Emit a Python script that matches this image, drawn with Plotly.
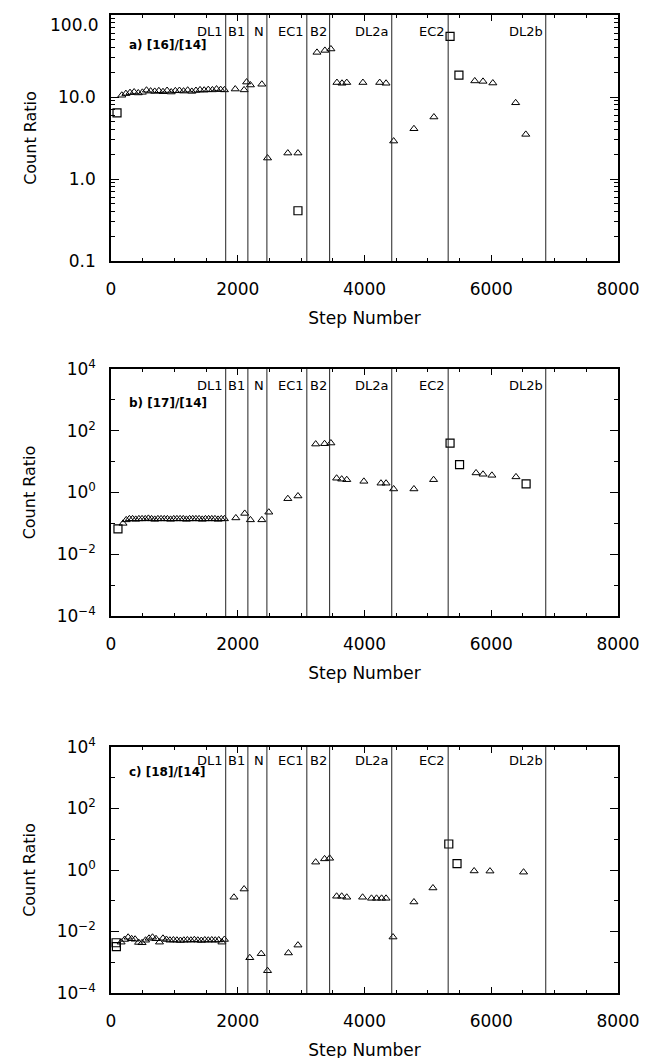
import plotly.graph_objects as go

# ---------------- data ----------------
zone_lines = [1810, 2160, 2460, 3090, 3450, 4430, 5320, 6860]
zone_labels = ["DL1", "B1", "N", "EC1", "B2", "DL2a", "EC2", "DL2b"]

# Panel a) [16]/[14]
a_tri_x = [170, 235, 300, 365, 430, 495, 560, 625, 690, 755, 820, 885, 950, 1015,
           1080, 1145, 1210, 1275, 1340, 1405, 1470, 1535, 1600, 1665, 1730, 1790,
           1960, 2100, 2140, 2200, 2380, 2470, 2790, 2950, 3250, 3375, 3470,
           3565, 3645, 3720, 3975, 4240, 4340, 4460, 4780, 5095,
           5740, 5870, 6025, 6385, 6545]
a_tri_y = [10.5, 11.0, 11.3, 11.5, 11.2, 11.4, 12.1, 11.8, 11.7, 11.9, 11.6, 12.0, 11.5, 11.9,
           12.0, 11.8, 12.1, 11.7, 12.0, 12.2, 12.1, 12.3, 12.2, 12.5, 12.3, 12.2,
           12.5, 12.2, 15.2, 14.0, 14.3, 1.8, 2.07, 2.07, 35, 37, 38.5,
           15.0, 14.7, 15.0, 15.0, 15.0, 14.7, 2.9, 4.1, 5.7,
           15.7, 15.5, 14.8, 8.5, 3.5]
a_sq_x = [95, 2950, 5350, 5490]
a_sq_y = [6.4, 0.41, 55, 18.5]

# Panel b) [17]/[14]
b_tri_x = [190, 240, 290, 340, 390, 440, 490, 540, 590, 640, 690, 740, 790, 840, 890,
           940, 990, 1040, 1090, 1140, 1190, 1240, 1290, 1340, 1390, 1440, 1490, 1540,
           1590, 1640, 1690, 1740, 1790,
           1970, 2110, 2200, 2380, 2490, 2790, 2950, 3230, 3370, 3470,
           3560, 3640, 3720, 3990, 4260, 4340, 4460, 4780, 5090,
           5760, 5870, 6010, 6390]
b_tri_y = [0.10, 0.13, 0.14, 0.14, 0.135, 0.14, 0.14, 0.14, 0.145, 0.14, 0.135, 0.14, 0.14,
           0.14, 0.14, 0.135, 0.14, 0.14, 0.14, 0.14, 0.135, 0.14, 0.14, 0.14, 0.14, 0.135,
           0.14, 0.14, 0.14, 0.14, 0.135, 0.14, 0.14,
           0.15, 0.21, 0.13, 0.13, 0.23, 0.63, 0.77, 37, 38, 40,
           2.9, 2.7, 2.6, 2.3, 2.0, 2.0, 1.3, 1.3, 2.6,
           4.3, 3.9, 3.6, 3.2]
b_sq_x = [110, 5350, 5500, 6550]
b_sq_y = [0.066, 40, 8, 1.9]

# Panel c) [18]/[14]
c_tri_x = [160, 215, 270, 325, 380, 435, 490, 545, 600, 655, 710, 765, 820, 875, 930,
           985, 1040, 1095, 1150, 1205, 1260, 1315, 1370, 1425, 1480, 1535, 1590, 1645,
           1700, 1750, 1790,
           1940, 2100, 2190, 2370, 2470, 2800, 2950, 3230, 3370, 3450,
           3560, 3640, 3720, 3970, 4110, 4190, 4270, 4340, 4450, 4780, 5080,
           5730, 5980, 6510]
c_tri_y = [0.0045, 0.0055, 0.0065, 0.0058, 0.0056, 0.0044, 0.0043, 0.0052, 0.006, 0.0065,
           0.0058, 0.0045, 0.006, 0.0055, 0.0052, 0.0053, 0.0052, 0.0051, 0.0052, 0.0053,
           0.0052, 0.0054, 0.0052, 0.0051, 0.0053, 0.0052, 0.0053, 0.0052, 0.0053, 0.0045,
           0.0055,
           0.13, 0.24, 0.0014, 0.0019, 0.00053, 0.002, 0.0036, 1.8, 2.3, 2.4,
           0.14, 0.14, 0.13, 0.13, 0.12, 0.12, 0.12, 0.12, 0.0066, 0.091, 0.26,
           0.93, 0.92, 0.85]
c_sq_x = [80, 85, 5330, 5460]
c_sq_y = [0.0043, 0.0032, 7, 1.6]

panel_titles = ["a) [16]/[14]", "b) [17]/[14]", "c) [18]/[14]"]

# ---------------- figure ----------------
FONT = "DejaVu Sans"
fig = go.Figure()

panels = [
    (a_tri_x, a_tri_y, a_sq_x, a_sq_y),
    (b_tri_x, b_tri_y, b_sq_x, b_sq_y),
    (c_tri_x, c_tri_y, c_sq_x, c_sq_y),
]
# the page body adds an 8px offset; plot areas below are in figure pixels
OFF = 8
H, MT, MB = 1058, 15 - OFF, 65 + OFF
ph = H - MT - MB
areas = [(15 - OFF, 261 - OFF), (369 - OFF, 616 - OFF), (747 - OFF, 993 - OFF)]
title_off = [30, 34, 25]
zone_off = [16, 16, 13]

for i, (tx, ty, sx, sy) in enumerate(panels):
    n = "" if i == 0 else str(i + 1)
    xa, ya = "x" + n, "y" + n
    fig.add_trace(go.Scatter(x=tx, y=ty, mode="markers", xaxis=xa, yaxis=ya,
                             marker=dict(symbol="triangle-up-open", size=7, color="black",
                                         line=dict(width=1, color="black")),
                             showlegend=False))
    fig.add_trace(go.Scatter(x=sx, y=sy, mode="markers", xaxis=xa, yaxis=ya,
                             marker=dict(symbol="square-open", size=8, color="black",
                                         line=dict(width=1.2, color="black")),
                             showlegend=False))
    top, bot = areas[i]
    dom = [(H - MB - bot) / ph, (H - MB - top) / ph]
    xkey = "xaxis" + n
    ykey = "yaxis" + n
    fig.layout[xkey] = dict(
        domain=[0, 1], anchor=ya, range=[0, 8000], tickvals=[0, 2000, 4000, 6000, 8000],
        ticks="inside", ticklen=6, tickwidth=1, tickcolor="black",
        minor=dict(dtick=500, ticks="inside", ticklen=3, tickcolor="black"),
        showline=True, linecolor="black", linewidth=1.5, mirror="ticks",
        showgrid=False, zeroline=False, ticklabelstandoff=12, automargin=False,
        ticklabeloverflow="allow",
        tickfont=dict(family=FONT, size=17, color="black"),
        title=dict(text="Step Number", font=dict(family=FONT, size=17, color="black"),
                   standoff=14),
    )
    if i == 0:
        ytv = [0.1, 1, 10, 100]
        ytt = ["0.1", "1.0", "10.0", ""]
        rng = [-1, 2]
        minor_vals = [m * 10 ** d for d in (-1, 0, 1) for m in range(2, 10)]
    else:
        ytv = [1e-4, 1e-2, 1, 1e2, 1e4]
        ytt = ["10<sup>−4</sup>", "10<sup>−2</sup>", "10<sup>0</sup>",
               "10<sup>2</sup>", "10<sup>4</sup>"]
        rng = [-4, 4]
        minor_vals = [1e-3, 1e-1, 1e1, 1e3]
    fig.layout[ykey] = dict(
        domain=dom, anchor=xa, type="log", range=rng, tickvals=ytv, ticktext=ytt,
        ticks="inside", ticklen=8, tickwidth=1, tickcolor="black",
        minor=dict(tickvals=minor_vals, ticks="inside", ticklen=4, tickcolor="black"),
        showline=True, linecolor="black", linewidth=1.5, mirror="ticks",
        showgrid=False, zeroline=False, ticklabelstandoff=10, automargin=False,
        ticklabeloverflow="allow",
        tickfont=dict(family=FONT, size=17, color="black"),
        title=dict(text="Count Ratio", font=dict(family=FONT, size=16, color="black"),
                   standoff=17),
    )
    if i == 0:
        # top tick label drawn slightly below the axis top, as in the original
        fig.add_annotation(x=0, y=2, xref="x domain", yref="y", text="100.0",
                           showarrow=False, xanchor="right", yanchor="middle",
                           xshift=-10, yshift=-10,
                           font=dict(family=FONT, size=17, color="black"))
    for xv in zone_lines:
        fig.add_shape(type="line", xref=xa, yref=ya + " domain", x0=xv, x1=xv, y0=0, y1=1,
                      line=dict(color="#222", width=1))
    h = bot - top
    for xv, lab in zip(zone_lines, zone_labels):
        fig.add_annotation(x=xv, y=1 - zone_off[i] / h, xref=xa, yref=ya + " domain",
                           text=lab, showarrow=False, xanchor="right", yanchor="middle",
                           xshift=-1,
                           font=dict(family=FONT, size=13, color="black"))
    fig.add_annotation(x=16 / 507, y=1 - title_off[i] / h, xref=xa + " domain",
                       yref=ya + " domain", text="<b>" + panel_titles[i] + "</b>",
                       showarrow=False, xanchor="left", yanchor="middle",
                       font=dict(family=FONT, size=12, color="black"))

fig.update_layout(width=647, height=1058, margin=dict(l=111 - OFF, r=29 + OFF, t=MT, b=MB),
                  paper_bgcolor="white", plot_bgcolor="white")
fig.write_html("out.html")
